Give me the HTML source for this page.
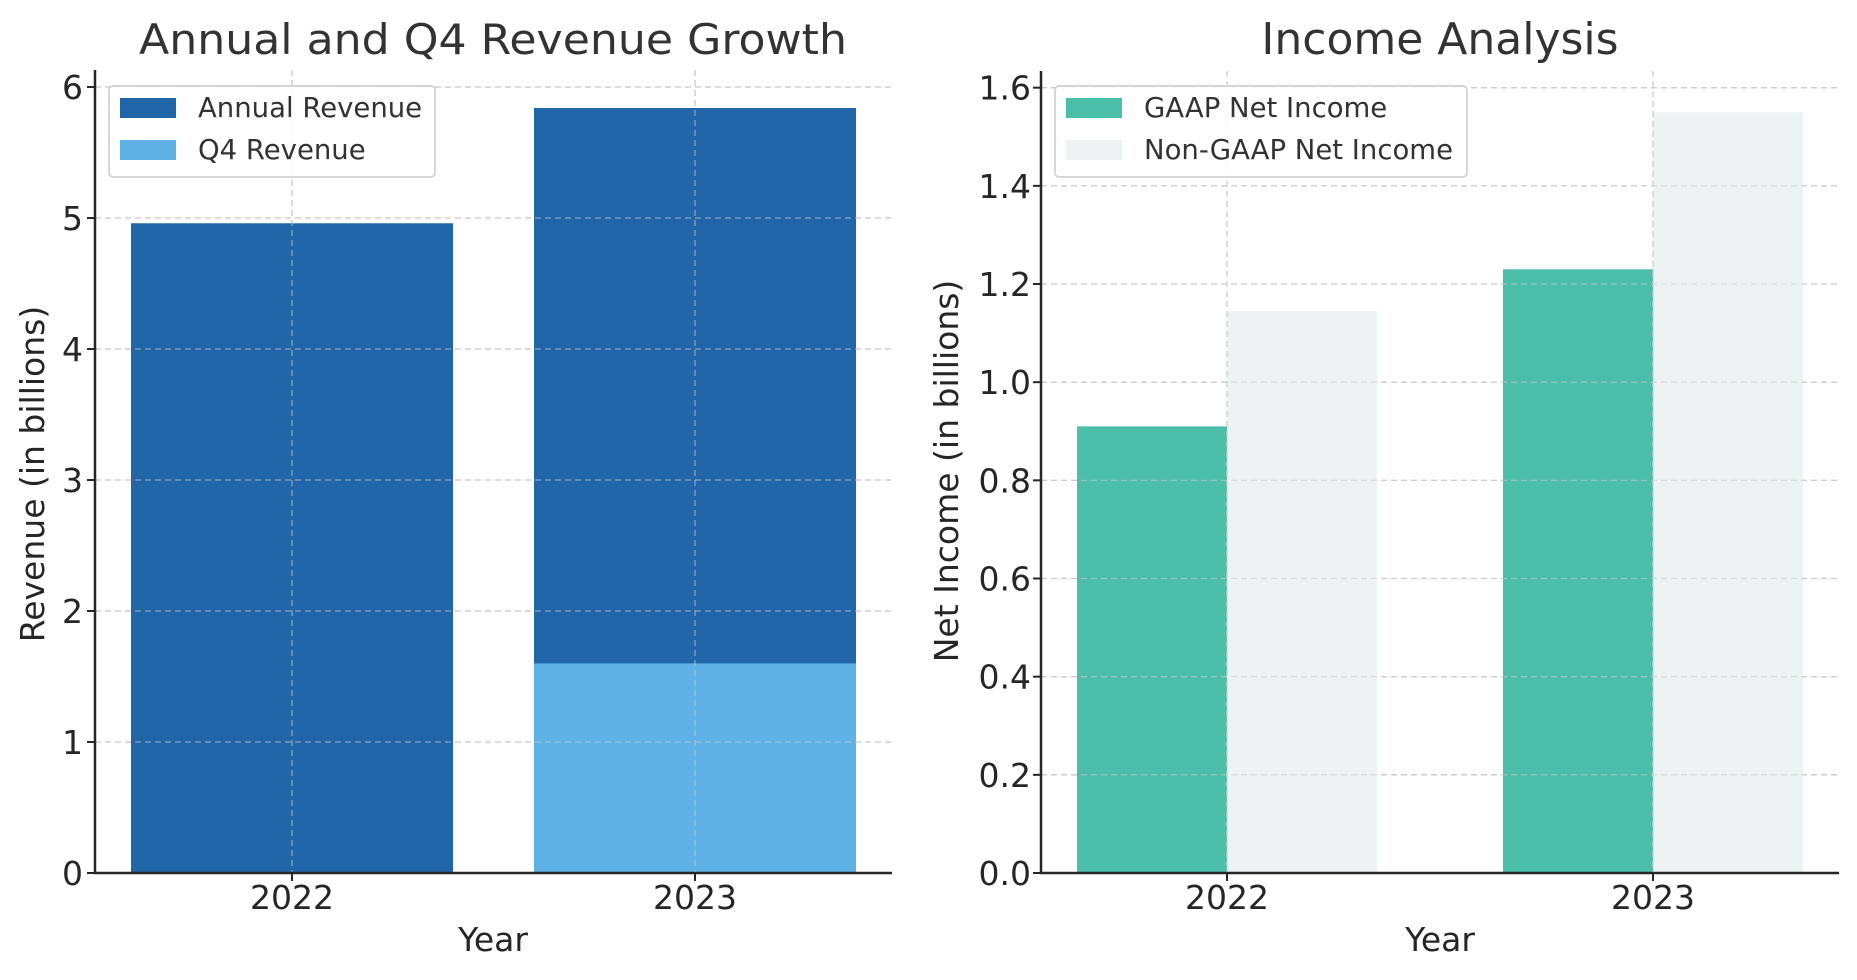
<!DOCTYPE html>
<html><head><meta charset="utf-8"><style>
html,body{margin:0;padding:0;background:#fff}
svg{display:block;font-family:"DejaVu Sans","Liberation Sans",sans-serif}
</style></head><body>
<svg id="chart" width="1857" height="980" viewBox="0 0 1857 980" xmlns="http://www.w3.org/2000/svg">
<text x="493" y="54" font-size="42" fill="#333" text-anchor="middle" textLength="708" lengthAdjust="spacingAndGlyphs">Annual and Q4 Revenue Growth</text>
<text x="1440" y="54" font-size="44" fill="#333" text-anchor="middle">Income Analysis</text>
<text x="493" y="951" font-size="33" fill="#262626" text-anchor="middle">Year</text>
<text x="1440" y="951" font-size="33" fill="#262626" text-anchor="middle">Year</text>
<text transform="translate(44,474) rotate(-90)" font-size="33" fill="#262626" text-anchor="middle">Revenue (in billions)</text>
<text transform="translate(958,471) rotate(-90)" font-size="33" fill="#262626" text-anchor="middle">Net Income (in billions)</text>
</svg>
<script>
const years = ['2022','2023'];
const annualRevenue = [4.96, 5.84];
const q4Revenue = [0, 1.6];
const leftTicks = [0,1,2,3,4,5,6];
const gaapIncome = [0.91, 1.23];
const nonGaapIncome = [1.145, 1.55];
const rightTicks = ['0.0','0.2','0.4','0.6','0.8','1.0','1.2','1.4','1.6'];

const NS='http://www.w3.org/2000/svg';
const svg=document.getElementById('chart');
function mk(tag,attrs,parent){const e=document.createElementNS(NS,tag);for(const k in attrs)e.setAttribute(k,attrs[k]);(parent||svg).appendChild(e);return e;}

// LEFT
const L={x0:95,x1:892,y0:873,yTop:70,ymax:6.13};
const ly=v=>L.y0-(v/L.ymax)*(L.y0-L.yTop);
const lx=i=>292+i*403;
leftTicks.forEach(t=>{
  const g=mk('line',{x1:L.x0,x2:L.x1,y1:ly(t),y2:ly(t),stroke:'#ccc','stroke-dasharray':'6,4','stroke-width':1.3});
  
  
});
years.forEach((y,i)=>{
  const g=mk('line',{x1:lx(i),x2:lx(i),y1:L.yTop,y2:L.y0,stroke:'#ccc','stroke-dasharray':'6,4','stroke-width':1.3});
  
  
});
const bw=322;
years.forEach((y,i)=>{
  const r=mk('rect',{x:lx(i)-bw/2,y:ly(annualRevenue[i]),width:bw,height:L.y0-ly(annualRevenue[i]),fill:'#2166a8'});
  
  
  if(q4Revenue[i]>0){
    const q=mk('rect',{x:lx(i)-bw/2,y:ly(q4Revenue[i]),width:bw,height:L.y0-ly(q4Revenue[i]),fill:'#5db1e4'});
    
    
  }
});
years.forEach((y,i)=>{
  const g=mk('line',{x1:lx(i),x2:lx(i),y1:L.yTop,y2:L.y0,stroke:'#ccc','stroke-opacity':0.6,'stroke-dasharray':'6,4','stroke-width':1.3});
  
  
});
leftTicks.forEach(t=>{
  const g=mk('line',{x1:L.x0,x2:L.x1,y1:ly(t),y2:ly(t),stroke:'#ccc','stroke-opacity':0.6,'stroke-dasharray':'6,4','stroke-width':1.3});
  
  
  const tk=mk('line',{x1:L.x0-8,x2:L.x0,y1:ly(t),y2:ly(t),stroke:'#262626','stroke-width':2});
  
  
  const tx=mk('text',{x:L.x0-12,y:ly(t)+12,'font-size':33,fill:'#262626','text-anchor':'end'});
  tx.textContent=t;
  
  
});
years.forEach((y,i)=>{
  const tk=mk('line',{x1:lx(i),x2:lx(i),y1:L.y0,y2:L.y0+8,stroke:'#262626','stroke-width':2});
  
  
  const tx=mk('text',{x:lx(i),y:909,'font-size':33,fill:'#262626','text-anchor':'middle'});
  tx.textContent=y;
  
  
});
let ax=mk('path',{d:`M${L.x0},${L.yTop} V${L.y0} H${L.x1}`,fill:'none',stroke:'#262626','stroke-width':2.5});


let lg=mk('g',{});


mk('rect',{x:109,y:86,width:326,height:91,rx:4,fill:'#fff','fill-opacity':0.85,stroke:'#d6d6d6','stroke-width':2},lg);
[['Annual Revenue','#2166a8'],['Q4 Revenue','#5db1e4']].forEach((e,k)=>{
  const g=mk('g',{},lg);
  
  
  mk('rect',{x:120,y:98+k*42,width:56,height:20,fill:e[1]},g);
  const t=mk('text',{x:198,y:117+k*42,'font-size':27.5,fill:'#333'},g);
  t.textContent=e[0];
});

// RIGHT
const R={x0:1041,x1:1839,y0:873,yTop:71,ymax:1.634};
const ry=v=>R.y0-(v/R.ymax)*(R.y0-R.yTop);
const rx=i=>1227+i*426;
const rbw=150;
rightTicks.forEach(t=>{
  const g=mk('line',{x1:R.x0,x2:R.x1,y1:ry(+t),y2:ry(+t),stroke:'#ccc','stroke-dasharray':'6,4','stroke-width':1.3});
  
  
});
years.forEach((y,i)=>{
  const r=mk('rect',{x:rx(i)-rbw,y:ry(gaapIncome[i]),width:rbw,height:R.y0-ry(gaapIncome[i]),fill:'#4bbfaa'});
  
  
  const n=mk('rect',{x:rx(i),y:ry(nonGaapIncome[i]),width:rbw,height:R.y0-ry(nonGaapIncome[i]),fill:'#edf3f2'});
  
  
});
rightTicks.forEach(t=>{
  const g=mk('line',{x1:R.x0,x2:R.x1,y1:ry(+t),y2:ry(+t),stroke:'#ccc','stroke-opacity':0.6,'stroke-dasharray':'6,4','stroke-width':1.3});
  
  
  const tk=mk('line',{x1:R.x0-8,x2:R.x0,y1:ry(+t),y2:ry(+t),stroke:'#262626','stroke-width':2});
  
  
  const tx=mk('text',{x:R.x0-10,y:ry(+t)+12,'font-size':33,fill:'#262626','text-anchor':'end'});
  tx.textContent=t;
  
  
});
years.forEach((y,i)=>{
  const g=mk('line',{x1:rx(i),x2:rx(i),y1:R.yTop,y2:R.y0,stroke:'#ccc','stroke-dasharray':'6,4','stroke-width':1.3});
  
  
  const tk=mk('line',{x1:rx(i),x2:rx(i),y1:R.y0,y2:R.y0+8,stroke:'#262626','stroke-width':2});
  
  
  const tx=mk('text',{x:rx(i),y:909,'font-size':33,fill:'#262626','text-anchor':'middle'});
  tx.textContent=y;
  
  
});
ax=mk('path',{d:`M${R.x0},${R.yTop} V${R.y0} H${R.x1}`,fill:'none',stroke:'#262626','stroke-width':2.5});


lg=mk('g',{});


mk('rect',{x:1055,y:86,width:412,height:91,rx:4,fill:'#fff','fill-opacity':0.85,stroke:'#d6d6d6','stroke-width':2},lg);
[['GAAP Net Income','#4bbfaa'],['Non-GAAP Net Income','#edf3f2']].forEach((e,k)=>{
  const g=mk('g',{},lg);
  
  
  mk('rect',{x:1066,y:98+k*42,width:56,height:20,fill:e[1]},g);
  const t=mk('text',{x:1144,y:117+k*42,'font-size':27.5,fill:'#333'},g);
  t.textContent=e[0];
});
</script>
</body></html>
